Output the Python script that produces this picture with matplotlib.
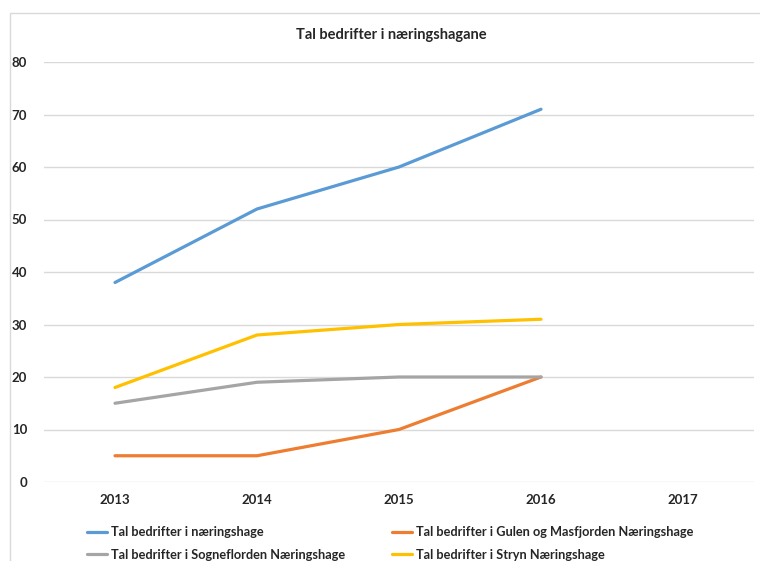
import matplotlib
matplotlib.use("Agg")
import matplotlib.pyplot as plt
from matplotlib.patches import Rectangle

years = ["2013", "2014", "2015", "2016", "2017"]
naeringshage = [38, 52, 60, 71]
gulen_masfjorden = [5, 5, 10, 20]
sognefjorden = [15, 19, 20, 20]
stryn = [18, 28, 30, 31]
series_labels = [
    "Tal bedrifter i næringshage",
    "Tal bedrifter i Gulen og Masfjorden Næringshage",
    "Tal bedrifter i Sogneflorden Næringshage",
    "Tal bedrifter i Stryn Næringshage",
]
colors = ["#5B9BD5", "#ED7D31", "#A5A5A5", "#FFC000"]
yticks = [0, 10, 20, 30, 40, 50, 60, 70, 80]

plt.rcParams['font.family'] = ['Lato', 'DejaVu Sans']

W, H = 760, 561
fig = plt.figure(figsize=(W / 100, H / 100), dpi=100)
fig.patch.set_facecolor("white")
ax = fig.add_axes([44 / W, 1 - 482 / H, (754 - 44) / W, (482 - 62) / H])

fig.patches.append(Rectangle((10 / W, -0.2), 1.2, 1 - 13 / H + 0.2, transform=fig.transFigure,
                             fill=False, edgecolor="#D9D9D9", linewidth=1, clip_on=False))

xs = list(range(len(years)))
data = [naeringshage, gulen_masfjorden, sognefjorden, stryn]
handles = []
for vals, c, lab in zip(data, colors, series_labels):
    h, = ax.plot(xs[:len(vals)], vals, color=c, lw=2.3, label=lab, solid_capstyle="round")
    handles.append(h)

ax.set_xlim(-0.5, len(years) - 0.5)
ax.set_ylim(0, 80)
ax.set_yticks(yticks)
ax.set_xticks(xs)
ax.set_xticklabels(years)
ax.grid(axis="y", color="#D9D9D9", lw=1)
ax.set_axisbelow(True)
for s in ax.spines.values():
    s.set_visible(False)
ax.tick_params(axis="both", length=0, labelsize=9.5, colors="#262626")
ax.tick_params(axis="y", pad=12)
ax.tick_params(axis="x", pad=9)
for lab in ax.get_xticklabels() + ax.get_yticklabels():
    lab.set_fontweight("bold")

fig.text(391 / W, 1 - 35 / H, "Tal bedrifter i næringshagane", ha="center", va="center",
         fontsize=10.5, fontweight="bold", color="#262626")

leg_kw = dict(loc="upper left", frameon=False, fontsize=9.2, handlelength=1.6,
              handletextpad=0.25, labelspacing=0.85, borderpad=0, borderaxespad=0)
leg1 = fig.legend([handles[0], handles[2]], [series_labels[0], series_labels[2]],
                  bbox_to_anchor=(87 / W, 1 - 526 / H), **leg_kw)
leg2 = fig.legend([handles[1], handles[3]], [series_labels[1], series_labels[3]],
                  bbox_to_anchor=(392 / W, 1 - 526 / H), **leg_kw)
for leg in (leg1, leg2):
    for t in leg.get_texts():
        t.set_fontweight("bold")
        t.set_color("#262626")

fig.savefig("out.png", dpi=100, facecolor="white")
